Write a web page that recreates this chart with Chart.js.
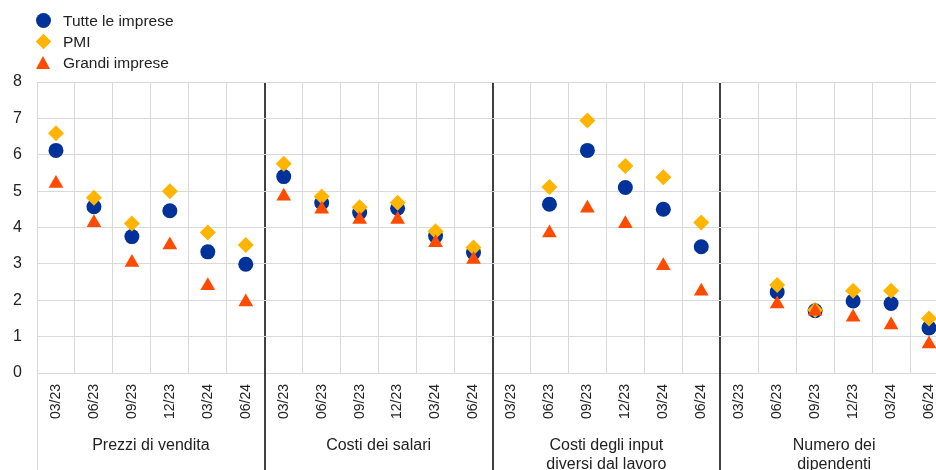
<!DOCTYPE html>
<html>
<head>
<meta charset="utf-8">
<script src="https://cdn.jsdelivr.net/npm/chart.js@4.4.1/dist/chart.umd.min.js"></script>
<style>
  html, body { margin: 0; padding: 0; overflow: hidden; background: #fff; width: 936px; height: 470px; }
  #wrap { position: relative; width: 936px; height: 470px; overflow: hidden; }
  /* the last group runs a little past the right edge, so the canvas is wider than the page */
  #myChart {
    position: absolute; left: 0; top: 0;
    width: 948px !important; height: 470px !important;
    max-width: none !important; max-height: none !important;
  }
  #legend {
    position: absolute; left: 35px; top: 10px;
    font: 15.5px "Liberation Sans", Arial, sans-serif; color: #222;
  }
  .item { height: 21px; display: flex; align-items: center; }
  .mark { width: 16px; height: 16px; margin-right: 12px; position: relative; }
  .mark.circle::after {
    content: ""; position: absolute; left: 0.5px; top: 0.5px;
    width: 15px; height: 15px; border-radius: 50%; background: var(--c);
  }
  .mark.rectRot::after {
    content: ""; position: absolute; left: 2.5px; top: 2.5px;
    width: 11px; height: 11px; background: var(--c); transform: rotate(45deg);
  }
  .mark.triangle::after {
    content: ""; position: absolute; left: 0.5px; top: 1px; width: 0; height: 0;
    border-left: 7.5px solid transparent; border-right: 7.5px solid transparent;
    border-bottom: 13px solid var(--c);
  }
</style>
</head>
<body>
<div id="wrap">
  <canvas id="myChart" width="948" height="470"></canvas>
  <div id="legend"></div>
</div>
<script>
const periods = ["03/23", "06/23", "09/23", "12/23", "03/24", "06/24"];
const groups = [
  "Prezzi di vendita",
  "Costi dei salari",
  ["Costi degli input", "diversi dal lavoro"],
  ["Numero dei", "dipendenti"],
];
const yTicks = [0, 1, 2, 3, 4, 5, 6, 7, 8];

// one value per period, groups in order; null where no survey answer
const tutteImprese = [
  6.12, 4.57, 3.75, 4.46, 3.33, 2.99,
  5.40, 4.68, 4.41, 4.53, 3.77, 3.31,
  null, 4.64, 6.12, 5.10, 4.50, 3.47,
  null, 2.23, 1.71, 1.98, 1.91, 1.24,
];
const pmi = [
  6.59, 4.82, 4.11, 5.00, 3.86, 3.52,
  5.75, 4.85, 4.56, 4.68, 3.90, 3.45,
  null, 5.11, 6.94, 5.69, 5.38, 4.14,
  null, 2.42, 1.73, 2.26, 2.26, 1.50,
];
const grandiImprese = [
  5.21, 4.13, 3.04, 3.52, 2.40, 1.95,
  4.86, 4.50, 4.22, 4.22, 3.58, 3.12,
  null, 3.85, 4.53, 4.10, 2.95, 2.25,
  null, 1.90, 1.70, 1.53, 1.32, 0.80,
];

const labels = groups.flatMap(() => periods);

Chart.defaults.font.family = "'Liberation Sans', Arial, sans-serif";
Chart.defaults.color = "#222";

const series = (label, data, color, pointStyle, radius, order) => ({
  label,
  data,
  backgroundColor: color,
  borderColor: color,
  pointStyle,
  pointRadius: radius,
  pointHoverRadius: radius,
  pointBorderWidth: 0,
  showLine: false,
  order,
});

const data = {
  labels,
  datasets: [
    series("Tutte le imprese", tutteImprese, "#003299", "circle", 7.5, 3),
    series("PMI", pmi, "#FFB400", "rectRot", 8, 2),
    series("Grandi imprese", grandiImprese, "#FF4B00", "triangle", 8.5, 1),
  ],
};

const SEP = "#404040";
const GRID = "#d9d9d9";
const perGroup = periods.length;

const align = (px, w) => Math.round(px - w / 2) + w / 2;

// carry the group separators and the left edge down through the label area
const separators = {
  id: "separators",
  afterDraw(chart) {
    const x = chart.scales.x;
    const ctx = chart.ctx;
    const step = x.getPixelForValue(1) - x.getPixelForValue(0);
    ctx.save();
    for (let i = 0; i < labels.length; i += perGroup) {
      const w = i === 0 ? 1 : 2;
      const px = align(x.getPixelForValue(i) - step / 2, w);
      ctx.strokeStyle = i === 0 ? GRID : SEP;
      ctx.lineWidth = w;
      ctx.beginPath();
      ctx.moveTo(px, chart.chartArea.bottom);
      ctx.lineTo(px, chart.height);
      ctx.stroke();
    }
    ctx.restore();
  },
};

const config = {
  type: "line",
  data,
  options: {
    responsive: false,
    animation: false,
    devicePixelRatio: 1,
    layout: {
      autoPadding: false,
      padding: { top: 82, left: 0, right: 0, bottom: 0 },
    },
    plugins: { legend: { display: false }, tooltip: { enabled: false } },
    scales: {
      x: {
        type: "category",
        offset: true,
        border: { display: false },
        grid: {
          offset: true,
          drawTicks: false,
          color: (c) => (c.index > 0 && c.index % perGroup === 0 ? SEP : GRID),
          lineWidth: (c) => (c.index > 0 && c.index % perGroup === 0 ? 2 : 1),
        },
        ticks: {
          autoSkip: false,
          minRotation: 90,
          maxRotation: 90,
          padding: 11,
          font: { size: 14 },
        },
        afterFit: (s) => {
          s.height = 50;
          // rotated labels sit inside their columns, no side room needed
          s.paddingLeft = 0;
          s.paddingRight = 0;
        },
      },
      x2: {
        type: "category",
        labels: groups,
        offset: true,
        position: "bottom",
        border: { display: false },
        grid: { display: false },
        ticks: { autoSkip: false, maxRotation: 0, padding: 5, font: { size: 16 } },
        afterFit: (s) => { s.height = 47; },
      },
      y: {
        min: yTicks[0],
        max: yTicks[yTicks.length - 1],
        border: { display: false },
        grid: { color: GRID, drawTicks: false },
        ticks: { stepSize: 1, padding: 15, font: { size: 16 } },
        afterFit: (s) => { s.width = 37; },
      },
    },
  },
  plugins: [separators],
};

const myChart = new Chart(document.getElementById("myChart"), config);

// legend stacked top-left, built from the datasets
const legend = document.getElementById("legend");
data.datasets.forEach((ds) => {
  const row = document.createElement("div");
  row.className = "item";
  const mark = document.createElement("span");
  mark.className = "mark " + ds.pointStyle;
  mark.style.setProperty("--c", ds.backgroundColor);
  const text = document.createElement("span");
  text.textContent = ds.label;
  row.append(mark, text);
  legend.appendChild(row);
});
</script>
</body>
</html>
